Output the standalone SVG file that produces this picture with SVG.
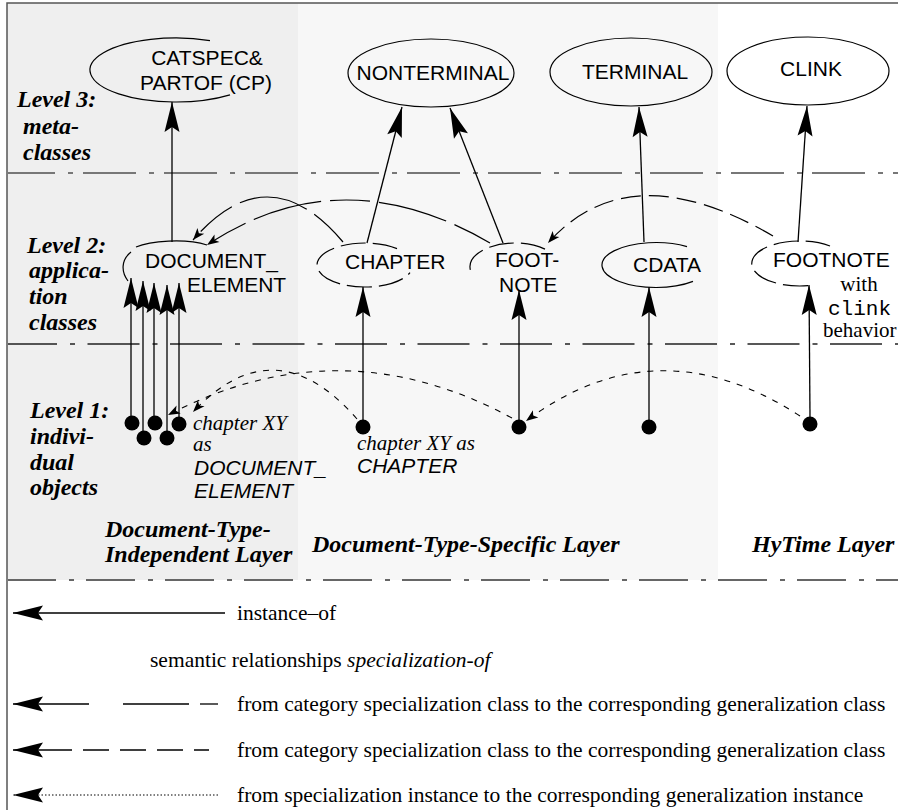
<svg xmlns="http://www.w3.org/2000/svg" width="898" height="810" viewBox="0 0 898 810">
<style>
.lv{font-family:"Liberation Serif","Times New Roman",serif;font-weight:bold;font-style:italic;font-size:24px;fill:#000}
.nd{font-family:"Liberation Sans",Arial,sans-serif;font-size:21px;fill:#000}
.ndi{font-family:"Liberation Sans",Arial,sans-serif;font-size:21px;font-style:italic;fill:#000}
.sr{font-family:"Liberation Serif","Times New Roman",serif;font-size:21px;fill:#000}
.sri{font-family:"Liberation Serif","Times New Roman",serif;font-size:21px;font-style:italic;fill:#000}
.mono{font-family:"Liberation Mono","Courier New",monospace;font-size:21px;fill:#000}
.lg{font-family:"Liberation Serif","Times New Roman",serif;font-size:21.5px;fill:#000}
.el{fill:none;stroke:#000;stroke-width:1.2}
.eld{fill:none;stroke:#000;stroke-width:1.2;stroke-dasharray:25 7}
.inst{fill:none;stroke:#000;stroke-width:1.3;marker-end:url(#big)}
.catA{fill:none;stroke:#000;stroke-width:1.2;stroke-dasharray:40 9 70 9;marker-end:url(#sm)}
.catB{fill:none;stroke:#000;stroke-width:1.2;stroke-dasharray:20 8;marker-end:url(#sm)}
.ins{fill:none;stroke:#000;stroke-width:1.1;stroke-dasharray:6 7;marker-end:url(#sm)}
.dot{fill:#000}
</style>
<defs>
<marker id="big" markerUnits="userSpaceOnUse" orient="auto" markerWidth="32" markerHeight="16" viewBox="-31 -8 32 16" refX="0" refY="0"><path d="M0,0 L-30,-7.5 L-25,0 L-30,7.5 Z" fill="#000"/></marker>
<marker id="sm" markerUnits="userSpaceOnUse" orient="auto" markerWidth="14" markerHeight="10" viewBox="-13 -5 14 10" refX="0" refY="0"><path d="M0,0 L-12,-4.5 L-9,0 L-12,4.5 Z" fill="#000"/></marker>
</defs>

<g id="background">
<rect x="7" y="3" width="291" height="577" fill="#efefef"/>
<rect x="298" y="3" width="420" height="577" fill="#f7f7f7"/>
<path d="M7,810 L7,3 L898,3" fill="none" stroke="#555" stroke-width="1.5"/>
<line x1="8" y1="173" x2="898" y2="173" stroke="#777" stroke-width="2" stroke-dasharray="53 13 5 10" stroke-dashoffset="6"/>
<line x1="8" y1="344" x2="898" y2="344" stroke="#222" stroke-width="1.3" stroke-dasharray="52 13 5 12.5" stroke-dashoffset="3"/>
<line x1="8" y1="580" x2="898" y2="580" stroke="#666" stroke-width="2" stroke-dasharray="49 13 5 12" stroke-dashoffset="1"/>
</g>

<g id="level-labels">
<text class="lv" x="17" y="107">Level 3:</text>
<text class="lv" x="23" y="134">meta-</text>
<text class="lv" x="23" y="160">classes</text>
<text class="lv" x="27" y="253">Level 2:</text>
<text class="lv" x="29" y="278">applica-</text>
<text class="lv" x="29" y="304">tion</text>
<text class="lv" x="29" y="330">classes</text>
<text class="lv" x="30" y="418">Level 1:</text>
<text class="lv" x="30" y="444">indivi-</text>
<text class="lv" x="30" y="470">dual</text>
<text class="lv" x="30" y="495">objects</text>
</g>

<g id="layer-labels">
<text class="lv" x="105" y="537">Document-Type-</text>
<text class="lv" x="105" y="562">Independent Layer</text>
<text class="lv" x="312" y="552">Document-Type-Specific Layer</text>
<text class="lv" x="752" y="552">HyTime Layer</text>
</g>

<g id="connectors">
<path class="inst" d="M172,242 L172,102"/>
<path class="inst" d="M367,243 L402,107"/>
<path class="inst" d="M503,243 L450,108"/>
<path class="inst" d="M644,242 L639,107"/>
<path class="inst" d="M798,242 L807,106"/>
<path class="inst" d="M131,416 L131,278"/>
<path class="inst" d="M143,431 L143,281"/>
<path class="inst" d="M154,416 L154,283"/>
<path class="inst" d="M167,431 L167,285"/>
<path class="inst" d="M179,417 L179,283"/>
<path class="inst" d="M363,420 L363,287"/>
<path class="inst" d="M519,420 L519,290"/>
<path class="inst" d="M649,420 L649,287"/>
<path class="inst" d="M810,417 L809,285"/>
<path class="catA" d="M343,242 Q268,153 193,240"/>
<path class="catA" d="M490,243 Q341,156 207,245"/>
<path class="catB" d="M773,236 Q629,152 548,243"/>
<path class="ins" d="M357,419 Q275,325 193,412"/>
<path class="ins" d="M512,418 Q340,325 168,415"/>
<path class="ins" d="M800,416 Q657,323 526,421"/>
</g>

<g id="node-cp">
<path class="el" d="M210,40.6 A86,32 0 1 0 230,94.9"/>
<text class="nd" x="207" y="65" text-anchor="middle">CATSPEC&amp;</text>
<text class="nd" x="206" y="90" text-anchor="middle">PARTOF (CP)</text>
</g>
<g id="node-nonterminal">
<ellipse class="el" cx="431" cy="73" rx="83" ry="34"/>
<text class="nd" x="433" y="80" text-anchor="middle">NONTERMINAL</text>
</g>
<g id="node-terminal">
<ellipse class="el" cx="631" cy="72" rx="81" ry="34"/>
<text class="nd" x="635" y="79" text-anchor="middle">TERMINAL</text>
</g>
<g id="node-clink">
<ellipse class="el" cx="808" cy="71" rx="81" ry="34"/>
<text class="nd" x="811" y="76" text-anchor="middle">CLINK</text>
</g>

<g id="node-document-element">
<path class="el" d="M136,247 C150,241 185,238 207,245"/>
<path class="el" d="M131,252 C121,260 121,272 128,281"/>
<text class="nd" x="145" y="268">DOCUMENT_</text>
<text class="nd" x="187" y="292">ELEMENT</text>
</g>
<g id="node-chapter">
<path class="eld" d="M397,248.6 A48,22 0 1 0 410,272.7"/>
<text class="nd" x="345" y="269">CHAPTER</text>
</g>
<g id="node-footnote-dts">
<path class="eld" d="M545,249.1 A45,24 0 0 0 473,275.6"/>
<text class="nd" x="495" y="267">FOOT-</text>
<text class="nd" x="499" y="292">NOTE</text>
</g>
<g id="node-cdata">
<path class="el" d="M687,246.6 A54,22.5 0 1 0 693,281.4"/>
<text class="nd" x="633" y="272">CDATA</text>
</g>
<g id="node-footnote-hytime">
<path class="eld" d="M830,246 A48,22.5 0 1 0 813,285.1"/>
<text class="nd" x="773" y="267">FOOTNOTE</text>
<text class="sr" x="859" y="291" text-anchor="middle">with</text>
<text class="mono" x="828" y="315">clink</text>
<text class="sr" x="823" y="337">behavior</text>
</g>

<g id="instances">
<circle class="dot" cx="132" cy="423" r="7.5"/>
<circle class="dot" cx="155" cy="423" r="7.5"/>
<circle class="dot" cx="179" cy="424" r="7.5"/>
<circle class="dot" cx="144" cy="438" r="7.5"/>
<circle class="dot" cx="167" cy="438" r="7.5"/>
<circle class="dot" cx="363" cy="427" r="7.5"/>
<circle class="dot" cx="519" cy="427" r="7.5"/>
<circle class="dot" cx="649" cy="427" r="7.5"/>
<circle class="dot" cx="810" cy="424" r="7.5"/>
<text class="sri" x="193" y="430">chapter XY</text>
<text class="sri" x="193" y="451">as</text>
<text class="ndi" x="194" y="475">DOCUMENT_</text>
<text class="ndi" x="194" y="498">ELEMENT</text>
<text class="sri" x="357" y="450">chapter XY as</text>
<text class="ndi" x="357" y="473">CHAPTER</text>
</g>

<g id="legend">
<path class="inst" d="M225,613 L13,613"/>
<text class="lg" x="237" y="620">instance–of</text>
<text class="lg" x="150" y="667">semantic relationships <tspan font-style="italic">specialization-of</tspan></text>
<path d="M89,704 L13,704" fill="none" stroke="#000" stroke-width="1.3" marker-end="url(#big)"/>
<line x1="123" y1="704" x2="189" y2="704" stroke="#000" stroke-width="1.3"/>
<line x1="200" y1="704" x2="218" y2="704" stroke="#000" stroke-width="1.3"/>
<text class="lg" x="237" y="711">from category specialization class to the corresponding generalization class</text>
<path d="M72,750 L13,750" fill="none" stroke="#000" stroke-width="1.3" marker-end="url(#big)"/>
<line x1="83" y1="750" x2="209" y2="750" stroke="#000" stroke-width="1.3" stroke-dasharray="26 11"/>
<text class="lg" x="237" y="757">from category specialization class to the corresponding generalization class</text>
<path d="M218,795 L13,795" fill="none" stroke="#000" stroke-width="1" stroke-dasharray="1.5 2" marker-end="url(#big)"/>
<text class="lg" x="237" y="802">from specialization instance to the corresponding generalization instance</text>
</g>
</svg>
